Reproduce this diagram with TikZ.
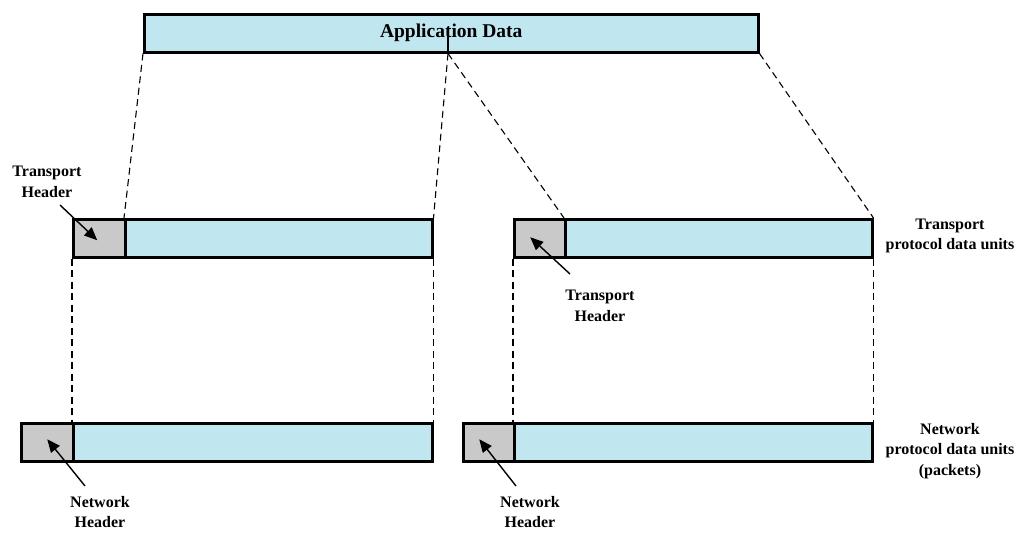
\documentclass[tikz,border=0pt]{standalone}
\usepackage{fontspec}
\setmainfont{Liberation Serif}
\usetikzlibrary{arrows.meta}

\definecolor{pdublue}{RGB}{192,230,240}
\definecolor{hdrgray}{RGB}{201,201,201}

\tikzset{
    pdu/.style={draw, line width=2.5pt, anchor=north west, inner sep=0pt, minimum height=38pt},
    body/.style={pdu, fill=pdublue},
    hdr/.style={pdu, fill=hdrgray, minimum width=52pt},
    split/.style={dashed, line width=1.1pt, dash pattern=on 7pt off 4.5pt},
    lbl/.style={font=\fontsize{16}{20.5}\selectfont\bfseries, align=center},
    pointer/.style={line width=1.4pt, -{Triangle[length=13pt,width=11pt]}}
}

\begin{document}
\begin{tikzpicture}[x=1pt, y=-1pt]
    \useasboundingbox (0,0) rectangle (1023,533);

    % application data
    \node[body, minimum width=614pt, font=\fontsize{19.5}{22}\selectfont\bfseries] (app) at (143,13) {Application Data};
    \coordinate (cut) at (448,30);

    % transport PDUs
    \node[hdr] (th1) at (72,218) {};
    \node[body, minimum width=307pt] (tb1) at (124,218) {};
    \node[hdr] (th2) at (513,218) {};
    \node[body, minimum width=307pt] (tb2) at (564,218) {};

    % network PDUs
    \node[hdr] (nh1) at (20,422) {};
    \node[body, minimum width=359pt] (nb1) at (72,422) {};
    \node[hdr] (nh2) at (462,422) {};
    \node[body, minimum width=358pt] (nb2) at (513,422) {};

    % splitting the data
    \draw[line width=1.1pt] (cut) -- (cut |- app.south);
    \draw[split] (app.south west) -- (tb1.north west);
    \draw[split] (cut |- app.south) -- (tb1.north east);
    \draw[split] (cut |- app.south) -- (tb2.north west);
    \draw[split] (app.south east) -- (tb2.north east);
    \draw[split] (th1.south west) -- (nb1.north west);
    \draw[split] (tb1.south east) -- (nb1.north east);
    \draw[split] (th2.south west) -- (nb2.north west);
    \draw[split] (tb2.south east) -- (nb2.north east);

    % labels
    \node[lbl] (tl1) at (47,182) {Transport\\Header};
    \node[lbl] (tl2) at (600,306) {Transport\\Header};
    \node[lbl] (nl1) at (100,512) {Network\\Header};
    \node[lbl] (nl2) at (530,512) {Network\\Header};
    \node[lbl] (tpdu) at (950,236) {Transport\\protocol data units};
    \node[lbl] (npdu) at (950,451) {Network\\protocol data units\\(packets)};

    % pointers into the headers
    \coordinate (p1) at (60,205);
    \coordinate (p2) at (570,274);
    \coordinate (p3) at (85,486);
    \coordinate (p4) at (516,486);
    \draw[pointer] (p1) -- ([xshift=-2pt,yshift=-2pt]th1.center);
    \draw[pointer] (p2) -- ([xshift=-10pt,yshift=1pt]th2.center);
    \draw[pointer] (p3) -- ([xshift=0pt,yshift=3pt]nh1.center);
    \draw[pointer] (p4) -- ([xshift=-10pt,yshift=3pt]nh2.center);
\end{tikzpicture}
\end{document}
